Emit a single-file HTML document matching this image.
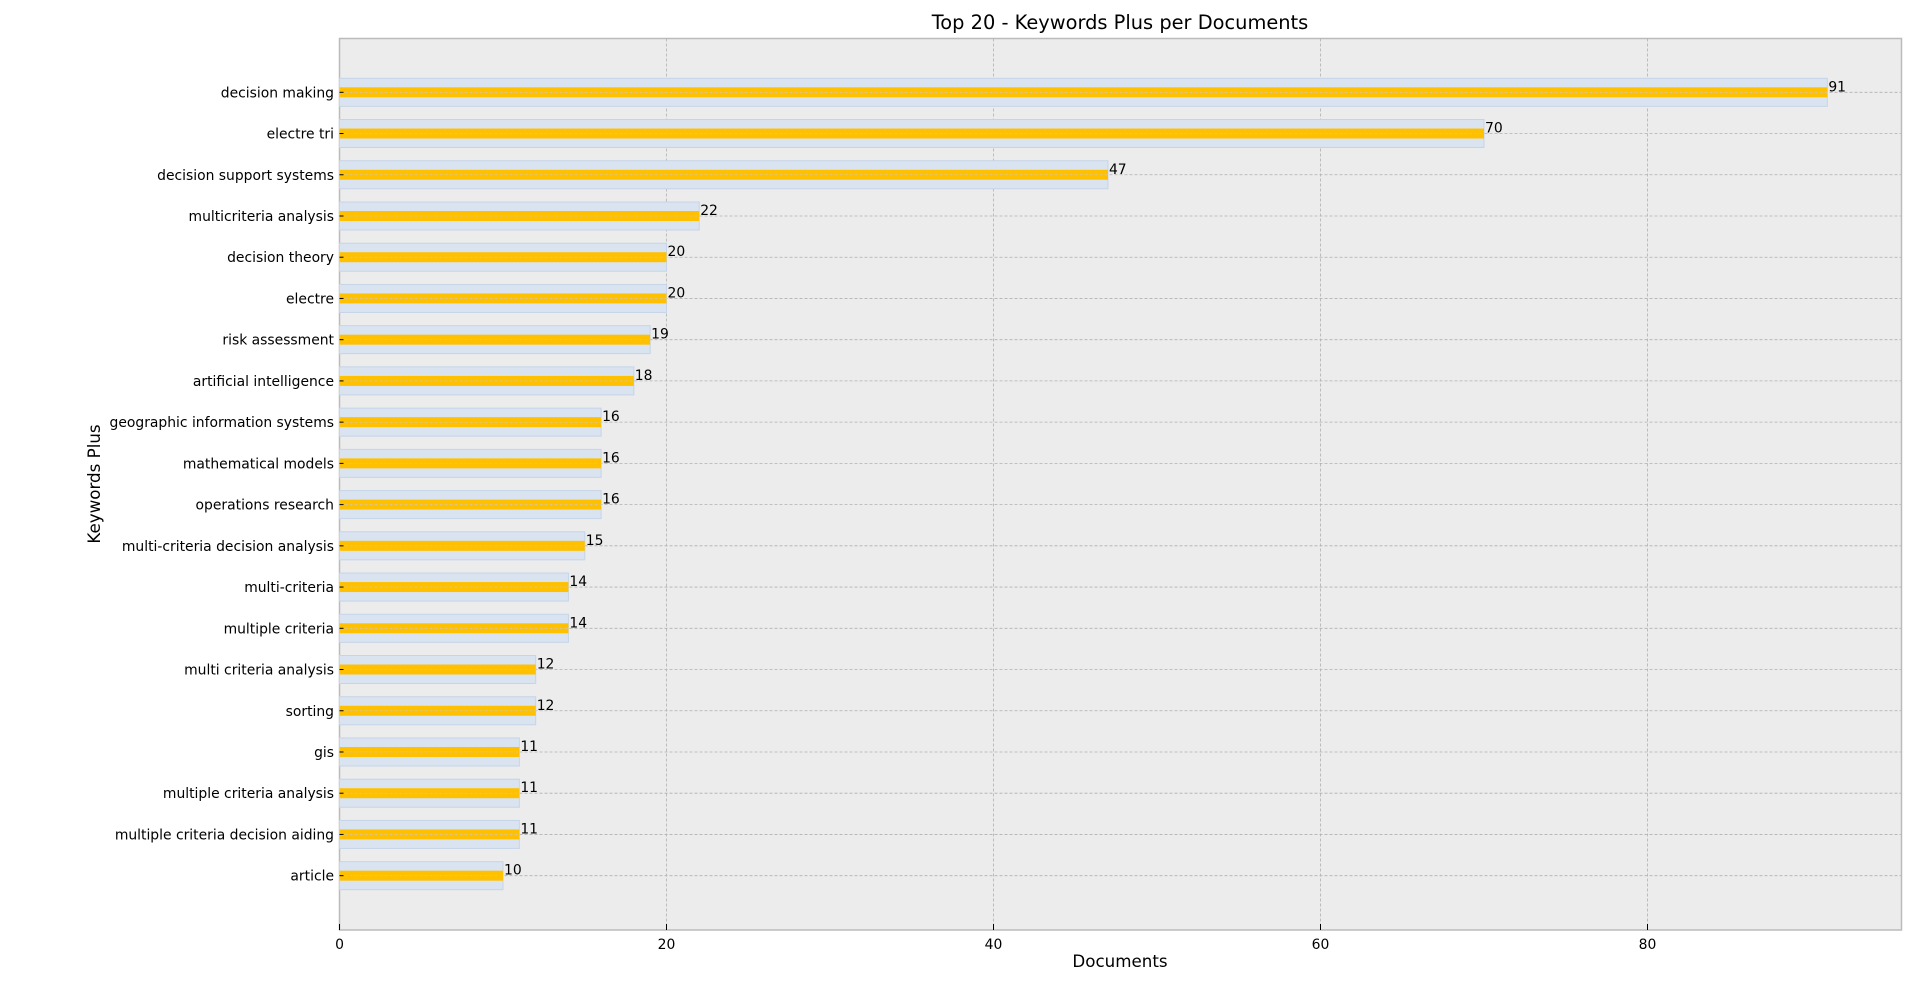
<!DOCTYPE html>
<html><head><meta charset="utf-8"><style>
body{margin:0;background:#fff;}
svg text{font-family:"DejaVu Sans","Liberation Sans",sans-serif;fill:#000;}
</style></head><body>
<svg id="chart" width="1920" height="983" xmlns="http://www.w3.org/2000/svg">
<rect x="339.5" y="38.5" width="1562" height="891.5" fill="#ececec" stroke="#bbbbbb" stroke-width="1.5"/>
<g id="grid"></g><g id="bars"></g><g id="ticks"></g>
<text x="1120" y="29" font-size="19.4" text-anchor="middle">Top 20 - Keywords Plus per Documents</text>
<text x="1120" y="967" font-size="16.7" text-anchor="middle">Documents</text>
<text x="0" y="0" font-size="16.7" text-anchor="middle" transform="translate(100,484) rotate(-90)">Keywords Plus</text>
</svg>
<script>
const categories=["decision making","electre tri","decision support systems","multicriteria analysis","decision theory","electre","risk assessment","artificial intelligence","geographic information systems","mathematical models","operations research","multi-criteria decision analysis","multi-criteria","multiple criteria","multi criteria analysis","sorting","gis","multiple criteria analysis","multiple criteria decision aiding","article"];
const values=[91,70,47,22,20,20,19,18,16,16,16,15,14,14,12,12,11,11,11,10];
const xTicks=[0,20,40,60,80];
const NS="http://www.w3.org/2000/svg";
const x0=339.5,pxPer=16.35,yTop=92.3,step=41.23;
const X=v=>x0+v*pxPer, Y=i=>yTop+i*step;
function mk(tag,attrs,parent,txt){const e=document.createElementNS(NS,tag);for(const k in attrs)e.setAttribute(k,attrs[k]);if(txt!==undefined)e.textContent=txt;document.getElementById(parent).appendChild(e);return e;}
xTicks.forEach(t=>{
 if(t>0){const g=mk('line',{x1:X(t),x2:X(t),y1:38.5,y2:930,stroke:'#b0b0b0','stroke-dasharray':'3,2','stroke-width':0.8},'grid');
 
 }
 const tk=mk('line',{x1:X(t),x2:X(t),y1:924,y2:930,stroke:'#000','stroke-width':1},'ticks');
 
 
 const tl=mk('text',{x:X(t),y:949,'font-size':13.9,'text-anchor':'middle'},'ticks',String(t));
 
 
});
categories.forEach((c,i)=>{
 const y=Y(i),v=values[i];
 const gl=mk('line',{x1:x0,x2:1901,y1:y,y2:y,stroke:'#b0b0b0','stroke-dasharray':'3,2','stroke-width':0.8},'grid');
 
 
 const bg=mk('rect',{x:x0,y:y-14,width:X(v)-x0,height:28,fill:'#dae4f1',stroke:'#c5d4e8','stroke-width':1},'bars');
 
 
 const b=mk('rect',{x:x0,y:y-5,width:X(v)-x0,height:10,fill:'#ffc000'},'bars');
 
 
 const m=mk('line',{x1:x0,x2:X(v),y1:y,y2:y,stroke:'#c8c8c8','stroke-dasharray':'3,2','stroke-width':0.6},'bars');
 
 
 const tk=mk('line',{x1:x0,x2:x0+4,y1:y,y2:y,stroke:'#000','stroke-width':1},'ticks');
 
 
 const vl=mk('text',{x:X(v)+1,y:y-1,'font-size':13.9},'bars',String(v));
 
 
 const lab=mk('text',{x:334,y:y+5,'font-size':13.9,'text-anchor':'end'},'ticks',c);
 
 
});
</script>
</body></html>
